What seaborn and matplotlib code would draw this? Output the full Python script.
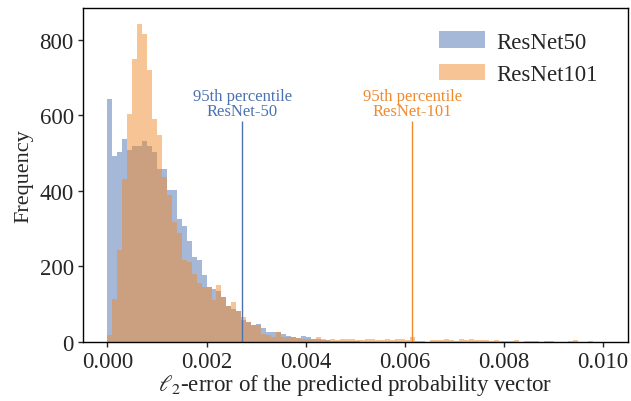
import numpy as np
import pandas as pd
import matplotlib
matplotlib.use("Agg")
import matplotlib.pyplot as plt
import seaborn as sns

# histogram: 100 bins of width 0.0001 on [0, 0.01]
n_bins = 100
faixa = (0.0, 0.01)

# counts (ResNet50)
resnet50 = [644, 491, 502, 536, 507, 518, 518, 533, 518, 502,
            458, 458, 403, 402, 325, 307, 268, 226, 217, 177,
            144, 140, 136, 118, 95, 87, 81, 59, 53, 46,
            47, 36, 26, 26, 26, 20, 16, 12, 10, 16,
            13, 7, 7, 5, 4, 3, 3, 2, 2, 2,
            2, 1, 1, 1, 1, 0, 1, 0, 1, 0,
            0, 0, 0, 0, 0, 0, 0, 0, 0, 0,
            0, 0, 0, 0, 0, 0, 0, 0, 0, 0,
            0, 0, 0, 0, 0, 0, 0, 0, 0, 0,
            0, 0, 0, 0, 0, 0, 0, 0, 0, 0]

# counts (ResNet101)
resnet101 = [17, 114, 243, 432, 604, 748, 842, 815, 720, 590,
             548, 436, 389, 318, 288, 216, 212, 179, 155, 144,
             144, 111, 150, 118, 95, 106, 81, 67, 53, 44,
             46, 20, 18, 12, 26, 12, 12, 12, 10, 7,
             7, 7, 12, 7, 5, 9, 4, 7, 9, 9,
             5, 6, 8, 8, 5, 5, 8, 5, 9, 7,
             4, 13, 3, 2, 1, 6, 6, 5, 9, 5,
             3, 7, 5, 9, 5, 4, 4, 2, 6, 2,
             3, 2, 4, 1, 2, 3, 2, 1, 3, 2,
             1, 1, 0, 2, 4, 1, 1, 3, 1, 1]

# 95th percentile markers
p95_resnet50 = 0.00272
p95_resnet101 = 0.00615

azul = "#4C72B0"
laranja = "#F08A2C"

sns.set_theme(style="ticks")
plt.rcParams["font.family"] = ["Liberation Serif", "DejaVu Serif"]
plt.rcParams["mathtext.fontset"] = "stix"

bin_edges = np.linspace(faixa[0], faixa[1], n_bins + 1)
centros = (bin_edges[:-1] + bin_edges[1:]) / 2
df50 = pd.DataFrame({"erro": centros, "contagem": resnet50})
df101 = pd.DataFrame({"erro": centros, "contagem": resnet101})

fig, ax = plt.subplots(figsize=(6.31, 4.02), dpi=100)
fig.subplots_adjust(left=0.131, right=0.995, top=0.978, bottom=0.147)

sns.histplot(data=df50, x="erro", weights="contagem", bins=n_bins, binrange=faixa,
             color=azul, alpha=0.5, linewidth=0, label="ResNet50", ax=ax)
sns.histplot(data=df101, x="erro", weights="contagem", bins=n_bins, binrange=faixa,
             color=laranja, alpha=0.5, linewidth=0, label="ResNet101", ax=ax)

# linhas do percentil 95
ax.vlines(p95_resnet50, 0, 584, color=azul, linewidth=1)
ax.vlines(p95_resnet101, 0, 584, color=laranja, linewidth=1)
ax.text(p95_resnet50, 589, "95th percentile\nResNet-50", color=azul,
        ha="center", va="bottom", fontsize=12, linespacing=0.95)
ax.text(p95_resnet101, 589, "95th percentile\nResNet-101", color=laranja,
        ha="center", va="bottom", fontsize=12, linespacing=0.95)

ax.set_xlabel(r"$\ell_2$-error of the predicted probability vector",
              fontsize=16.5, labelpad=0)
ax.set_ylabel("Frequency", fontsize=16, labelpad=4)
ax.set_xticks([0.0, 0.002, 0.004, 0.006, 0.008, 0.010])
ax.set_xticklabels(["0.000", "0.002", "0.004", "0.006", "0.008", "0.010"])
ax.tick_params(labelsize=16.5, length=3.5, width=1, pad=3)
ax.legend(frameon=False, fontsize=16.5, loc="upper right", handletextpad=0.5,
          bbox_to_anchor=(0.983, 0.991))

for s in ax.spines.values():
    s.set_color("black")
    s.set_linewidth(1)

plt.savefig("out.png", dpi=100)
plt.close()
